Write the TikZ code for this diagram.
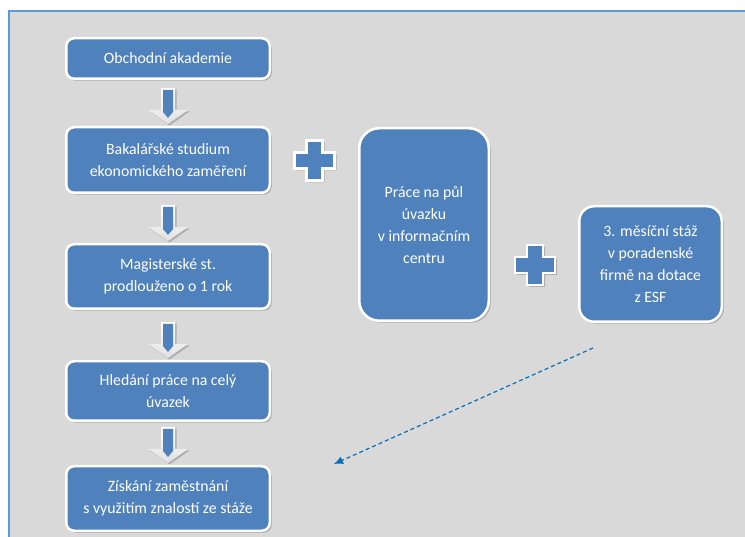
\documentclass[tikz,border=0pt]{standalone}
\usepackage{fontspec}
\setmainfont{Carlito}
\usetikzlibrary{shadows,arrows.meta,calc}
\definecolor{panelgray}{HTML}{D9D9D9}
\definecolor{panelline}{HTML}{5B9BD5}
\definecolor{boxblue}{HTML}{4F81BD}
\definecolor{dashblue}{HTML}{0070C0}
\begin{document}
\begin{tikzpicture}[x=1pt, y=-1pt,
    stepbox/.style={draw=white, line width=2.5pt, fill=boxblue, text=white, align=center,
      font=\fontsize{15.8}{22}\selectfont, rounded corners=8pt, inner sep=0pt,
      drop shadow={shadow xshift=2pt, shadow yshift=-2pt, opacity=0.3, fill=black!70}},
    blockarrow/.style={top color=white, bottom color=black!12, draw=none,
      drop shadow={shadow xshift=1.5pt, shadow yshift=-1.5pt, opacity=0.3, fill=black!70}},
    arrowcore/.style={fill=boxblue, draw=none},
    plusmark/.style={draw=white, line width=2.5pt, fill=boxblue, line join=miter,
      drop shadow={shadow xshift=2pt, shadow yshift=-2pt, opacity=0.3, fill=black!70}}]
    \useasboundingbox (0,0) rectangle (745,537);
    \fill[panelgray] (9,11) rectangle (745,537);
    \draw[panelline, line width=1.5pt] (745,11) -- (9,11) -- (9,537);
    % left column
    \node [stepbox, minimum width=203.5pt, minimum height=40.5pt] (oa) at (168,58.5) {Obchodní akademie};
    \node [stepbox, minimum width=203.5pt, minimum height=65.5pt] (bak) at (168,160) {Bakalářské studium\\ekonomického zaměření};
    \node [stepbox, minimum width=203.5pt, minimum height=64.5pt] (mag) at (168,276.5) {Magisterské st.\\prodlouženo o 1 rok};
    \node [stepbox, minimum width=203.5pt, minimum height=59.5pt] (hle) at (168,391) {Hledání práce na celý\\úvazek};
    \node [stepbox, minimum width=203.5pt, minimum height=64.5pt] (zis) at (168,498.5) {Získání zaměstnání\\s využitím znalostí ze stáže};
    % right part
    \node [stepbox, rounded corners=20pt, minimum width=129.5pt, minimum height=192.5pt] (prace) at (424,224.5) {Práce na půl\\úvazku\\v informačním\\centru};
    \node [stepbox, rounded corners=15pt, minimum width=142.5pt, minimum height=115.5pt] (staz) at (650.5,264) {3. měsíční stáž\\v poradenské\\firmě na dotace\\z ESF};
    \foreach \a/\b in {oa/bak, bak/mag, mag/hle, hle/zis} {
      \path[blockarrow] ($(\b.north)+(-7,-38)$) -- ++(14,0) -- ++(0,22) -- ++(13,0) -- ++(-20,14) -- ++(-20,-14) -- ++(13,0) -- cycle;
      \path[arrowcore] ($(\b.north)+(-5,-36)$) -- ++(10,0) -- ++(0,22) -- ++(-5,6) -- ++(-5,-6) -- cycle;
    }
    \coordinate (plusa) at (314.5,160.5);
    \coordinate (plusb) at (535,265);
    \foreach \p in {plusa, plusb}
      \draw[plusmark] (\p) ++(-8,-20) -- ++(16,0) -- ++(0,12) -- ++(12,0) -- ++(0,16) -- ++(-12,0) -- ++(0,12) -- ++(-16,0) -- ++(0,-12) -- ++(-12,0) -- ++(0,-16) -- ++(12,0) -- cycle;
    \coordinate (dashstart) at (593,348);
    \coordinate (dashend) at (334,464);
    \draw[dashblue, line width=1.2pt, dash pattern=on 4pt off 3pt, -{Latex[length=9pt, width=8pt]}] (dashstart) -- (dashend);
  \end{tikzpicture}
\end{document}
